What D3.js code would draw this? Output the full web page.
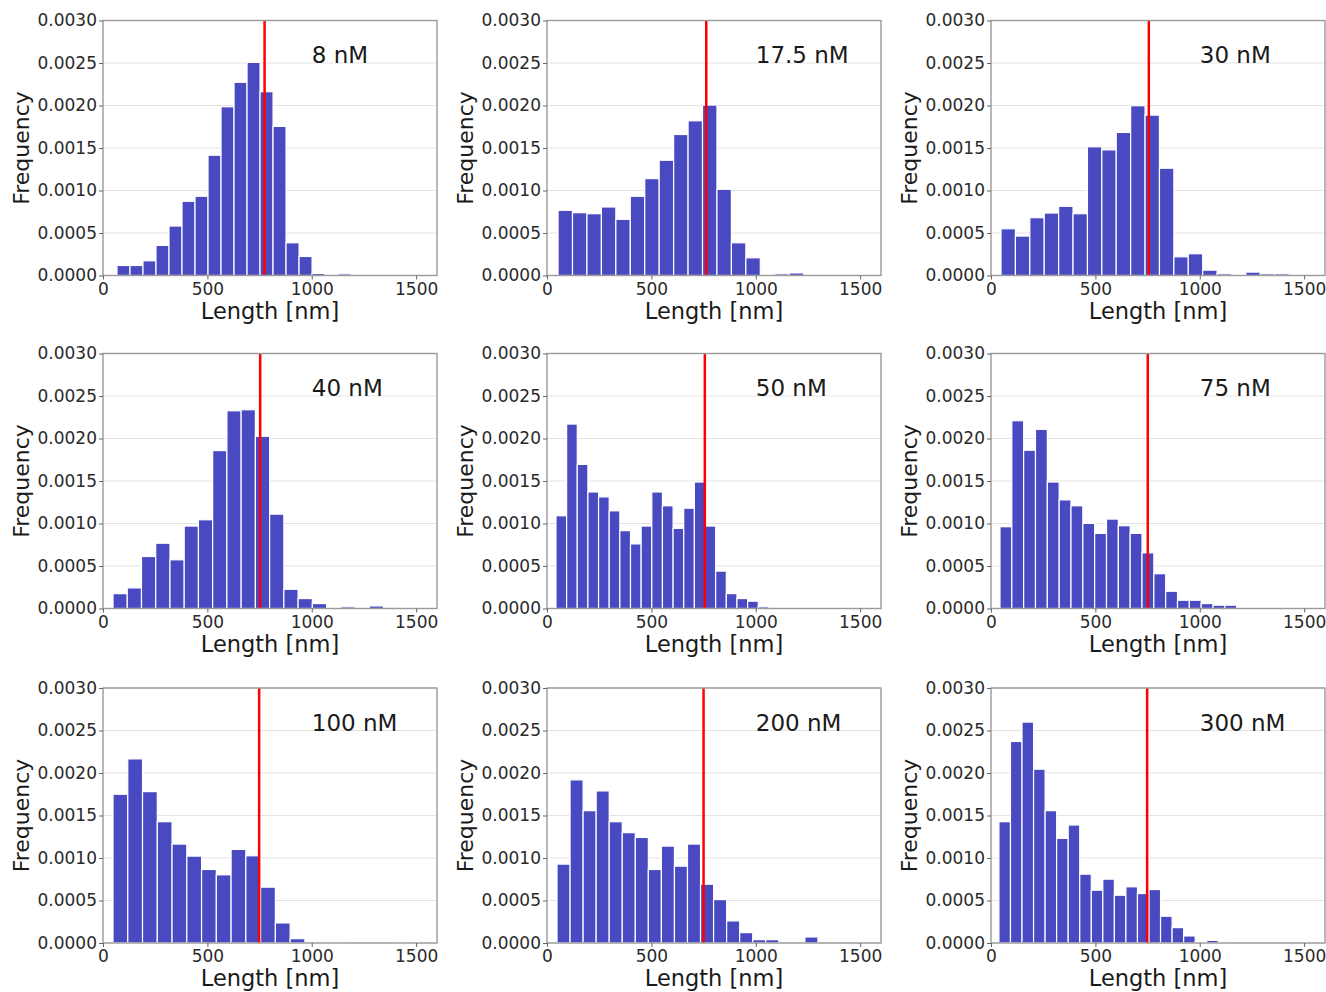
<!DOCTYPE html>
<html>
<head>
<meta charset="utf-8">
<script src="https://cdn.jsdelivr.net/npm/d3@7/dist/d3.min.js"></script>
<style>
  body { margin: 0; background: #fff; }
  text { font-family: "DejaVu Sans", sans-serif; }
</style>
</head>
<body>
<script>
// concentrations shown in each panel (row by row)
var labels = ["8 nM", "17.5 nM", "30 nM", "40 nM", "50 nM", "75 nM", "100 nM", "200 nM", "300 nM"];

// histogram bins: left edge of first bin and bin width (nm), 20 bins per panel
var binStart = [67, 53, 48, 48, 43, 43, 48, 48, 38];
var binWidth = [62.3, 69.2, 69, 68.2, 51, 56.7, 70.7, 62.5, 55.3];

// normalised frequencies
var freq8   = [0.000118, 0.000118, 0.000173, 0.000354, 0.000582, 0.000873, 0.000932, 0.001415, 0.001985, 0.002273,
               0.002508, 0.002162, 0.001754, 0.000385, 0.000224, 0.000024, 0.00001, 0.00002, 0.00001, 0.00001];
var freq17  = [0.000767, 0.000739, 0.000727, 0.000806, 0.000661, 0.000932, 0.00114, 0.001356, 0.001659, 0.00182,
               0.002005, 0.001014, 0.000385, 0.000208, 0, 0.00002, 0.00003, 0, 0, 0.00001];
var freq30  = [0.00055, 0.000464, 0.00068, 0.000735, 0.000814, 0.000727, 0.001514, 0.001478, 0.001683, 0.001997,
               0.001887, 0.001262, 0.00022, 0.000256, 0.000063, 0.00002, 0, 0.00004, 0.00002, 0.00002];
var freq40  = [0.000175, 0.000242, 0.000612, 0.000768, 0.000573, 0.00097, 0.001044, 0.001858, 0.002326, 0.002338,
               0.002026, 0.00111, 0.000226, 0.000117, 0.000058, 0, 0.00002, 0, 0.00003, 0.000015];
var freq50  = [0.001091, 0.00217, 0.001695, 0.001371, 0.001313, 0.001149, 0.000916, 0.00076, 0.00097, 0.001371,
               0.001208, 0.000943, 0.00118, 0.001488, 0.00097, 0.00044, 0.000175, 0.000117, 0.000086, 0.00002];
var freq75  = [0.000962, 0.002209, 0.001862, 0.002108, 0.001488, 0.001278, 0.001208, 0.001001, 0.000884, 0.001052,
               0.000974, 0.000884, 0.000655, 0.000409, 0.000203, 0.000097, 0.000097, 0.000058, 0.000039, 0.000039];
var freq100 = [0.00175, 0.002166, 0.001781, 0.001427, 0.001164, 0.001022, 0.000865, 0.000802, 0.001101, 0.001026,
               0.000657, 0.000236, 0.000051, 0, 0.000006, 0.000006, 0, 0, 0, 0.000006];
var freq200 = [0.000928, 0.001919, 0.001557, 0.001789, 0.001427, 0.001298, 0.001242, 0.000865, 0.00114, 0.000904,
               0.001164, 0.000692, 0.000511, 0.00026, 0.000122, 0.000039, 0.000039, 0, 0, 0.000071];
var freq300 = [0.001427, 0.002371, 0.002599, 0.002045, 0.001557, 0.001231, 0.001388, 0.00081, 0.000621, 0.000751,
               0.000562, 0.000661, 0.000582, 0.000629, 0.000315, 0.000181, 0.000083, 0.000012, 0.000031, 0.000012];
var freqs = [freq8, freq17, freq30, freq40, freq50, freq75, freq100, freq200, freq300];

// position of the red reference line (nm)
var redLine = [774, 763, 756, 753, 756, 751, 748, 750, 748];

var xTicks = [0, 500, 1000, 1500];
var yTicks = [0, 0.0005, 0.001, 0.0015, 0.002, 0.0025, 0.003];

// layout of the 3x3 grid
var colLeft = [103, 547, 991];
var rowTop = [20.5, 353.5, 688];
var pw = 334, ph = 255;

var svg = d3.select("body").append("svg")
  .attr("width", 1326)
  .attr("height", 992);

var x = d3.scaleLinear().domain([0, 1600]).range([0, pw]);
var y = d3.scaleLinear().domain([0, 0.003]).range([ph, 0]);

freqs.forEach(function(values, i) {
  var g = svg.append("g")
    .attr("transform", "translate(" + colLeft[i % 3] + "," + rowTop[Math.floor(i / 3)] + ")");

  // horisontale gitterlinjer
  g.selectAll(".grid")
    .data(yTicks)
    .enter()
    .append("line")
    .attr("x1", 0).attr("x2", pw)
    .attr("y1", function(d) { return y(d); })
    .attr("y2", function(d) { return y(d); })
    .attr("stroke", "#e3e3e3")
    .attr("stroke-width", 1.2);

  var bins = values.map(function(v, j) {
    return { x0: binStart[i] + j * binWidth[i], x1: binStart[i] + (j + 1) * binWidth[i], v: v };
  });

  g.selectAll(".bar")
    .data(bins)
    .enter()
    .append("rect")
    .attr("x", function(d) { return x(d.x0); })
    .attr("y", function(d) { return y(d.v); })
    .attr("width", function(d) { return x(d.x1) - x(d.x0); })
    .attr("height", function(d) { return y(0) - y(d.v); })
    .attr("fill", "#4949c2")
    .attr("stroke", "#fff")
    .attr("stroke-width", 1.2);

  // rød referencelinje
  g.append("line")
    .attr("x1", x(redLine[i])).attr("x2", x(redLine[i]))
    .attr("y1", 0).attr("y2", ph)
    .attr("stroke", "#ff0000")
    .attr("stroke-width", 2.5);

  // ramme
  g.append("rect")
    .attr("width", pw).attr("height", ph)
    .attr("fill", "none")
    .attr("stroke", "#9a9a9a")
    .attr("stroke-width", 1.4);

  var ax = g.append("g")
    .attr("transform", "translate(0," + ph + ")")
    .call(d3.axisBottom(x).tickValues(xTicks).tickSize(4).tickPadding(3).tickFormat(d3.format("d")));
  var ay = g.append("g")
    .call(d3.axisLeft(y).tickValues(yTicks).tickSize(4).tickPadding(2).tickFormat(d3.format(".4f")));

  [ax, ay].forEach(function(a) {
    a.select(".domain").remove();
    a.selectAll(".tick line").attr("stroke", "#666");
    a.selectAll(".tick text")
      .attr("fill", "#2a2a2a")
      .style("font-size", "17px");
  });

  g.append("text")
    .attr("x", pw / 2)
    .attr("y", ph + 43)
    .attr("text-anchor", "middle")
    .attr("fill", "#1a1a1a")
    .style("font-size", "22.5px")
    .text("Length [nm]");

  g.append("text")
    .attr("transform", "translate(-74," + (ph / 2) + ") rotate(-90)")
    .attr("text-anchor", "middle")
    .attr("fill", "#1a1a1a")
    .style("font-size", "22px")
    .text("Frequency");

  g.append("text")
    .attr("x", x(1000))
    .attr("y", y(0.0025))
    .attr("fill", "#1a1a1a")
    .style("font-size", "23px")
    .text(labels[i]);
});
</script>
</body>
</html>
